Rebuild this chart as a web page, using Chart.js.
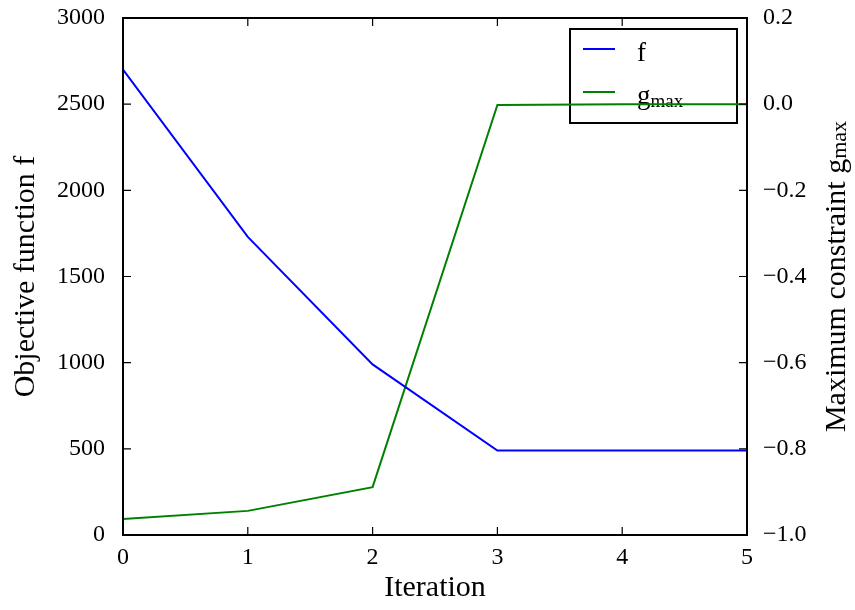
<!DOCTYPE html>
<html>
<head>
<meta charset="utf-8">
<script src="https://cdn.jsdelivr.net/npm/chart.js@4/dist/chart.umd.min.js"></script>
<style>
  html, body { margin: 0; padding: 0; background: #fff; }
  #wrap { width: 855px; height: 610px; }
</style>
</head>
<body>
<div id="wrap"><canvas id="chart" width="855" height="610"></canvas></div>
<script>
const iterations = [0, 1, 2, 3, 4, 5];
const objectiveF = [2700, 1730, 990, 490, 490, 490];
const maxConstraint = [-0.963, -0.944, -0.889, -0.002, 0.0, 0.0];
const leftTicks = [0, 500, 1000, 1500, 2000, 2500, 3000];
const rightTicks = [-1.0, -0.8, -0.6, -0.4, -0.2, 0.0, 0.2];

const FONT = "'Liberation Serif', 'DejaVu Serif', serif";

// draw "g" with a smaller "max" subscript
function drawGmax(ctx, x, y, size) {
  ctx.font = size + "px " + FONT;
  ctx.fillText("g", x, y);
  const w = ctx.measureText("g").width;
  ctx.font = Math.round(size * 0.72) + "px " + FONT;
  ctx.fillText("max", x + w, y + size * 0.12);
  return w + ctx.measureText("max").width;
}

const framePlugin = {
  id: "frame",
  beforeDatasetsDraw(chart) {
    const { ctx } = chart;
    // legend box (drawn under the lines, like the reference)
    ctx.save();
    ctx.fillStyle = "#fff";
    ctx.strokeStyle = "#000";
    ctx.lineWidth = 2;
    ctx.fillRect(570, 29, 167, 94);
    ctx.strokeRect(570, 29, 167, 94);
    ctx.strokeStyle = "#0000ff";
    ctx.beginPath(); ctx.moveTo(583, 49); ctx.lineTo(615, 49); ctx.stroke();
    ctx.strokeStyle = "#008000";
    ctx.beginPath(); ctx.moveTo(583, 92); ctx.lineTo(615, 92); ctx.stroke();
    ctx.fillStyle = "#000";
    ctx.textBaseline = "alphabetic";
    ctx.textAlign = "left";
    ctx.font = "27px " + FONT;
    ctx.fillText("f", 637, 61);
    drawGmax(ctx, 637, 104, 27);
    ctx.restore();
  },
  afterDraw(chart) {
    const { ctx, chartArea: a, scales } = chart;
    ctx.save();
    ctx.strokeStyle = "#000";
    ctx.lineWidth = 2;
    ctx.strokeRect(a.left, a.top, a.right - a.left, a.bottom - a.top);
    ctx.lineWidth = 1.2;
    ctx.beginPath();
    scales.x.ticks.forEach(t => {
      const px = scales.x.getPixelForValue(t.value);
      ctx.moveTo(px, a.bottom); ctx.lineTo(px, a.bottom - 8);
      ctx.moveTo(px, a.top); ctx.lineTo(px, a.top + 8);
    });
    scales.y.ticks.forEach(t => {
      const py = scales.y.getPixelForValue(t.value);
      ctx.moveTo(a.left, py); ctx.lineTo(a.left + 8, py);
    });
    scales.y2.ticks.forEach(t => {
      const py = scales.y2.getPixelForValue(t.value);
      ctx.moveTo(a.right, py); ctx.lineTo(a.right - 8, py);
    });
    ctx.stroke();

    // right axis title with subscript
    const size = 30;
    ctx.fillStyle = "#000";
    ctx.translate(837, (a.top + a.bottom) / 2);
    ctx.rotate(-Math.PI / 2);
    ctx.font = size + "px " + FONT;
    const main = "Maximum constraint ";
    const w1 = ctx.measureText(main).width;
    const gw = ctx.measureText("g").width;
    ctx.font = Math.round(size * 0.72) + "px " + FONT;
    const total = w1 + gw + ctx.measureText("max").width;
    ctx.textBaseline = "middle";
    ctx.textAlign = "left";
    ctx.font = size + "px " + FONT;
    ctx.fillText(main, -total / 2, 0);
    drawGmax(ctx, -total / 2 + w1, 0, size);
    ctx.restore();
  }
};

new Chart(document.getElementById("chart"), {
  type: "line",
  data: {
    datasets: [
      {
        label: "f",
        data: iterations.map((x, i) => ({ x, y: objectiveF[i] })),
        borderColor: "#0000ff",
        borderWidth: 2,
        pointRadius: 0,
        tension: 0,
        yAxisID: "y"
      },
      {
        label: "gmax",
        data: iterations.map((x, i) => ({ x, y: maxConstraint[i] })),
        borderColor: "#008000",
        borderWidth: 2,
        pointRadius: 0,
        tension: 0,
        yAxisID: "y2"
      }
    ]
  },
  options: {
    responsive: false,
    animation: false,
    layout: { padding: { top: 18, left: 4, right: 0, bottom: 0 } },
    plugins: { legend: { display: false }, tooltip: { enabled: false } },
    scales: {
      x: {
        type: "linear",
        min: 0, max: 5,
        afterBuildTicks: s => { s.ticks = iterations.map(v => ({ value: v })); },
        afterFit: s => { s.height = 75; },
        grid: { display: false },
        border: { display: false },
        ticks: { color: "#000", font: { family: FONT, size: 24 }, padding: 0, maxRotation: 0 },
        title: { display: true, text: "Iteration", color: "#000", font: { family: FONT, size: 30 }, padding: { top: 0 } }
      },
      y: {
        position: "left",
        min: 0, max: 3000,
        afterBuildTicks: s => { s.ticks = leftTicks.map(v => ({ value: v })); },
        afterFit: s => { s.width = 119; s.paddingTop = 0; s.paddingBottom = 0; },
        grid: { display: false },
        border: { display: false },
        ticks: { color: "#000", font: { family: FONT, size: 24, lineHeight: 0.8 }, padding: 10, callback: v => String(v) },
        title: { display: true, text: "Objective function f", color: "#000", font: { family: FONT, size: 30 }, padding: { bottom: 2 } }
      },
      y2: {
        position: "right",
        min: -1.0, max: 0.2,
        afterBuildTicks: s => { s.ticks = rightTicks.map(v => ({ value: v })); },
        afterFit: s => { s.width = 108; s.paddingTop = 0; s.paddingBottom = 0; },
        grid: { display: false },
        border: { display: false },
        ticks: {
          color: "#000", font: { family: FONT, size: 24, lineHeight: 0.8 }, padding: 8,
          callback: v => (v < -1e-9 ? "\u2212" : "") + Math.abs(v).toFixed(1)
        }
      }
    }
  },
  plugins: [framePlugin]
});
</script>
</body>
</html>
